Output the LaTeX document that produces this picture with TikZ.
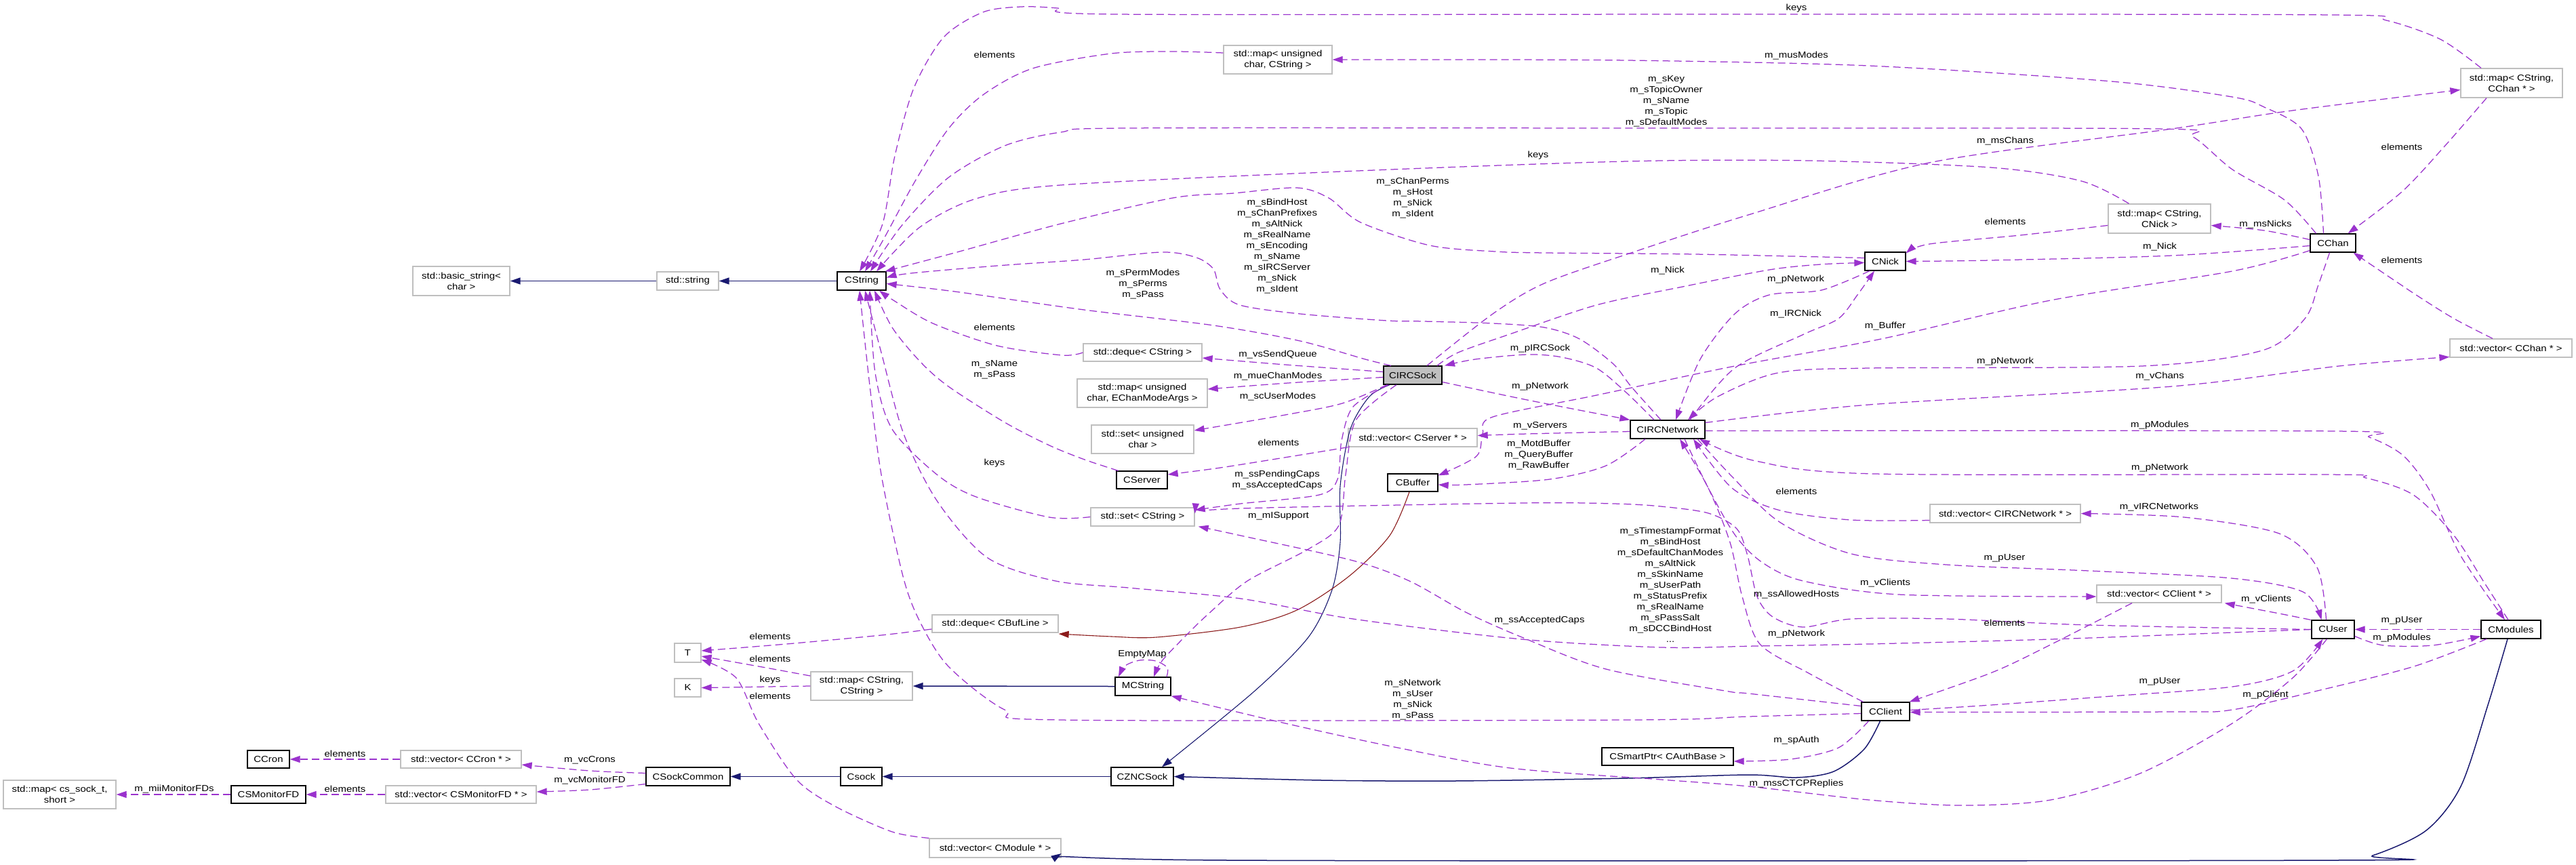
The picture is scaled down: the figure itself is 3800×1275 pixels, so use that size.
\documentclass[tikz,border=0pt]{standalone}
\usepackage{fontspec}
\setmainfont{Liberation Sans}[FakeStretch=1.15]
\usetikzlibrary{arrows.meta}
\definecolor{purp}{HTML}{9A32CD}
\definecolor{navy}{HTML}{191970}
\definecolor{fbrick}{HTML}{8B1A1A}
\definecolor{graybd}{HTML}{BFBFBF}
\newcommand{\lbl}{\fontsize{13}{16}\selectfont}
\begin{document}
\begin{tikzpicture}[x=1pt,y=-1pt,
 cls/.style={draw=black, line width=1.3pt, fill=white, inner sep=2pt, align=center, font=\lbl},
 tpl/.style={draw=graybd, line width=1.3pt, fill=white, inner sep=2pt, align=center, font=\lbl},
 lab/.style={inner sep=0pt, align=center, font=\lbl},
 usedge/.style={draw=purp, line width=1.25pt, dash pattern=on 11pt off 6pt, -{Triangle[length=15pt,width=10pt]}},
 inhedge/.style={draw=navy, line width=1.5pt, -{Triangle[length=15pt,width=10pt]}},
 protedge/.style={draw=fbrick, line width=1.5pt, -{Triangle[length=15pt,width=10pt]}}]
\useasboundingbox (0,0) rectangle (3800,1275);
\fill[white] (0,0) rectangle (3800,1275);

% ---------- nodes ----------
\node[tpl, minimum width=143pt, minimum height=43pt] (bstr) at (680.5,414.5) {std::basic\_string<\\char >};
\node[tpl, minimum width=91pt, minimum height=27pt] (sstr) at (1014.5,414.5) {std::string};
\node[cls, minimum width=72pt, minimum height=27pt] (cstr) at (1271,414.5) {CString};
\node[tpl, minimum width=160pt, minimum height=42pt] (mapuc) at (1885,88) {std::map< unsigned\\char, CString >};
\node[tpl, minimum width=175pt, minimum height=26pt] (dqcs) at (1685.5,520) {std::deque< CString >};
\node[tpl, minimum width=192pt, minimum height=42pt] (mapce) at (1685,580) {std::map< unsigned\\char, EChanModeArgs >};
\node[tpl, minimum width=151pt, minimum height=42pt] (setuc) at (1685.5,648) {std::set< unsigned\\char >};
\node[cls, minimum width=75pt, minimum height=26pt] (cserver) at (1684.5,708) {CServer};
\node[tpl, minimum width=153pt, minimum height=27pt] (setcs) at (1685.5,762.5) {std::set< CString >};
\node[cls, fill=graybd, minimum width=86pt, minimum height=27pt] (ircsock) at (2084,553.5) {CIRCSock};
\node[tpl, minimum width=190pt, minimum height=27pt] (vecserv) at (2084,645.5) {std::vector< CServer * >};
\node[cls, minimum width=74pt, minimum height=26pt] (cbuffer) at (2084,712) {CBuffer};
\node[cls, minimum width=110pt, minimum height=27pt] (ircnet) at (2460,633.5) {CIRCNetwork};
\node[cls, minimum width=60pt, minimum height=27pt] (cnick) at (2781,385.5) {CNick};
\node[tpl, minimum width=151pt, minimum height=43pt] (mapcn) at (3185.5,322.5) {std::map< CString,\\CNick >};
\node[cls, minimum width=67pt, minimum height=27pt] (cchan) at (3441.5,358.5) {CChan};
\node[tpl, minimum width=150pt, minimum height=43pt] (mapcc) at (3705,122.5) {std::map< CString,\\CChan * >};
\node[tpl, minimum width=180pt, minimum height=27pt] (vecchan) at (3704,513.5) {std::vector< CChan * >};
\node[tpl, minimum width=222pt, minimum height=27pt] (vecnet) at (2958,757.5) {std::vector< CIRCNetwork * >};
\node[tpl, minimum width=184pt, minimum height=26pt] (vecclient) at (3185,876) {std::vector< CClient * >};
\node[cls, minimum width=63pt, minimum height=27pt] (cuser) at (3441.5,928.5) {CUser};
\node[cls, minimum width=88pt, minimum height=27pt] (cmodules) at (3704,928.5) {CModules};
\node[cls, minimum width=71pt, minimum height=27pt] (cclient) at (2781.5,1049.5) {CClient};
\node[cls, minimum width=194pt, minimum height=26pt] (smartptr) at (2460,1116) {CSmartPtr< CAuthBase >};
\node[tpl, minimum width=186pt, minimum height=26pt] (dqbuf) at (1468,920) {std::deque< CBufLine >};
\node[tpl, minimum width=150pt, minimum height=42pt] (mapss) at (1271,1012) {std::map< CString,\\CString >};
\node[cls, minimum width=82pt, minimum height=27pt] (mcstring) at (1686,1012.5) {MCString};
\node[cls, minimum width=61pt, minimum height=27pt] (csock) at (1270.5,1145.5) {Csock};
\node[cls, minimum width=92pt, minimum height=27pt] (zncsock) at (1685,1145.5) {CZNCSock};
\node[tpl, minimum width=194pt, minimum height=28pt] (vecmod) at (1468,1251) {std::vector< CModule * >};
\node[tpl, minimum width=39pt, minimum height=28pt] (tnode) at (1014.5,963) {T};
\node[tpl, minimum width=39pt, minimum height=27pt] (knode) at (1014.5,1014.5) {K};
\node[cls, minimum width=62pt, minimum height=26pt] (ccron) at (396,1120) {CCron};
\node[tpl, minimum width=178pt, minimum height=26pt] (veccron) at (680,1120) {std::vector< CCron * >};
\node[cls, minimum width=124pt, minimum height=27pt] (sockcommon) at (1015,1145.5) {CSockCommon};
\node[tpl, minimum width=166pt, minimum height=42pt] (mapfd) at (88,1172) {std::map< cs\_sock\_t,\\short >};
\node[cls, minimum width=110pt, minimum height=26pt] (monfd) at (396,1172) {CSMonitorFD};
\node[tpl, minimum width=222pt, minimum height=26pt] (vecmonfd) at (680,1172) {std::vector< CSMonitorFD * >};

% ---------- inheritance ----------
\draw[inhedge] (sstr.west) -- (bstr.east);
\draw[inhedge] (cstr.west) -- (sstr.east);
\draw[inhedge] (csock.west) -- (sockcommon.east);
\draw[inhedge] (zncsock.west) -- (csock.east);
\draw[inhedge] (mcstring.west) -- (mapss.east);
\draw[inhedge, line width=1.1pt] plot[smooth] coordinates {([xshift=-34pt]ircsock.south) (2020,585) (1992,633) (1977,717) (1977,800) (1965,870) (1930,940) (1850,1020) ([xshift=29pt]zncsock.north)};
\draw[inhedge] plot[smooth] coordinates {([xshift=-8pt]cclient.south) (2750,1105) (2705,1138) (2650,1147) (2579,1143) (2400,1148) (2145,1152) (1950,1151) (zncsock.east)};
\draw[inhedge] plot[smooth] coordinates {([xshift=-5pt]cmodules.south) (3670,1040) (3630,1160) (3579,1225) (3500,1262) (3445,1269) (1813,1269) ([yshift=-8pt]vecmod.east)};
\draw[protedge, line width=1.1pt] plot[smooth] coordinates {([xshift=-5pt]cbuffer.south) (2050,790) (1990,850) (1913,900) (1830,925) (1706,940) (1640,939) ([yshift=-15pt]dqbuf.east)};

% ---------- usage edges ----------
\draw[usedge] plot[smooth] coordinates {([xshift=-45pt]mapcc.north) (3600,58) (3520,30) (3440,22) (2600,21) (1647,21) (1560,12) (1506,10) (1450,18) (1392,55) (1348,130) (1320,230) (1302,330) ([xshift=-3pt]cstr.north)};
\draw[usedge] plot[smooth] coordinates {([yshift=10pt]mapuc.west) (1730,76) (1639,79) (1523,101) (1450,140) (1399,190) (1350,267) (1305,350) ([xshift=5pt]cstr.north)};
\draw[usedge] plot[smooth] coordinates {([xshift=-14pt]cchan.north) (3420,260) (3395,190) (3340,158) (3293,143) (3114,120) (2757,97) (2400,89) (2100,88) (mapuc.east)};
\draw[usedge] plot[smooth] coordinates {([xshift=-25pt]cchan.north) (3370,295) (3293,250) (3235,202) (3180,190) (2400,189) (1664,189) (1565,195) (1482,215) (1399,262) (1330,333) ([xshift=13pt]cstr.north)};
\draw[usedge] plot[smooth] coordinates {([xshift=-45pt]mapcn.north) (3070,267) (2936,247) (2668,237) (2400,238) (1979,253) (1565,273) (1440,293) (1357,335) ([xshift=22pt]cstr.north)};
\draw[usedge] plot[smooth] coordinates {([yshift=5pt]cnick.west) (2500,375) (2280,373) (2205,371) (2109,362) (2007,328) (1960,292) (1913,277) (1820,285) (1730,292) (1565,330) (1408,373) ([xshift=-2pt]cstr.north east)};
\draw[usedge] plot[smooth] coordinates {([xshift=-10pt]ircnet.north) (2406,570) (2380,537) (2330,500) (2278,483) (2202,477) (2100,474) (2046,473) (1918,463) (1829,450) (1800,427) (1790,397) (1765,380) (1714,372) (1599,383) (1471,392) (1344,403) ([yshift=5pt]cstr.east)};
\draw[usedge] plot[smooth] coordinates {([xshift=-32pt]ircsock.north) (2014,530) (1918,503) (1790,480) (1599,457) (1408,430) ([yshift=-4pt]cstr.east)};
\draw[usedge] plot[smooth] coordinates {(dqcs.west) (1567,524) (1471,510) (1376,477) (1318,443) ([xshift=26pt]cstr.south)};
\draw[usedge] plot[smooth] coordinates {([xshift=-35pt]cserver.north) (1600,678) (1548,657) (1482,623) (1399,570) (1357,533) (1316,483) ([xshift=19pt]cstr.south)};
\draw[usedge] plot[smooth] coordinates {(setcs.west) (1548,763) (1440,733) (1382,700) (1316,633) (1291,550) ([xshift=12pt]cstr.south)};
\draw[usedge] plot[smooth] coordinates {(cuser.west) (3293,933) (3025,943) (2757,950) (2590,953) (2452,955) (2245,943) (1996,913) (1830,883) (1664,867) (1557,857) (1457,823) (1383,740) (1333,640) (1300,520) ([xshift=5pt]cstr.south)};
\draw[usedge] plot[smooth] coordinates {([yshift=-3pt]cclient.west) (2579,1057) (2400,1062) (1564,1062) (1482,1047) (1399,983) (1357,917) (1332,850) (1300,700) (1282,560) ([xshift=-3pt]cstr.south)};
\draw[usedge] plot[smooth] coordinates {([yshift=5pt]ircsock.west) (1896,538) ([yshift=-8pt]dqcs.east)};
\draw[usedge] plot[smooth] coordinates {([yshift=-3pt]ircsock.west) (1900,565) ([yshift=6pt]mapce.east)};
\draw[usedge] plot[smooth] coordinates {([xshift=-38pt]ircsock.south) (1980,595) (1896,612) ([yshift=13pt]setuc.east)};
\draw[usedge] plot[smooth] coordinates {([xshift=-36pt]ircsock.south) (1996,600) (1979,650) (1973,707) (1946,730) (1830,743) ([yshift=10pt]setcs.east)};
\draw[usedge] plot[smooth] coordinates {([xshift=-24pt]ircsock.south) (2000,620) (1985,700) (1975,775) (1930,810) (1840,857) (1781,907) (1747,940) (1714,975) ([xshift=16pt]mcstring.north)};
\draw[usedge] plot[smooth] coordinates {([xshift=36pt]ircsock.north) (2151,520) (2227,493) (2355,450) (2482,423) (2610,398) (2686,390) ([yshift=-2pt]cnick.west)};
\draw[usedge] plot[smooth] coordinates {([xshift=21pt]ircsock.north) (2202,463) (2278,418) (2406,373) (2579,317) (2846,240) (3204,190) (3382,163) ([yshift=-10pt]mapcc.west)};
\draw[usedge] plot[smooth] coordinates {([xshift=-20pt]ircnet.north) (2400,580) (2355,543) (2304,527) (2253,523) (2176,530) ([xshift=47pt]ircsock.north)};
\draw[usedge] plot[smooth] coordinates {([yshift=-10pt]ircsock.east) (2253,590) (ircnet.north west)};
\draw[usedge] plot[smooth] coordinates {([yshift=-3pt]ircnet.west) (2253,640) ([yshift=3pt]vecserv.east)};
\draw[usedge] plot[smooth] coordinates {([xshift=-33pt]ircnet.south) (2369,687) (2286,707) (2162,715) ([yshift=-3pt]cbuffer.east)};
\draw[usedge] plot[smooth] coordinates {(vecserv.south west) (1913,672) (1800,690) ([yshift=8pt]cserver.east)};
\draw[usedge] plot[smooth] coordinates {([yshift=-11pt]cchan.west) (3293,400) (3025,443) (2775,500) (2559,540) (2355,583) (2202,615) (2187,640) (2178,673) ([yshift=-3pt]cbuffer.north east)};
\draw[usedge] plot[smooth] coordinates {([xshift=-23pt]cnick.south) (2687,428) (2610,435) (2559,463) (2508,530) ([xshift=12pt]ircnet.north)};
\draw[usedge] plot[smooth] coordinates {([xshift=33pt]ircnet.north) (2559,543) (2661,493) (2712,470) (2740,435) ([xshift=-16pt]cnick.south)};
\draw[usedge] plot[smooth] coordinates {([xshift=-5pt]cchan.south) (3420,420) (3400,470) (3337,517) (3159,540) (2757,543) (2623,550) (2534,585) ([xshift=30pt]ircnet.north)};
\draw[usedge] plot[smooth] coordinates {([yshift=10pt]ircnet.east) (2757,597) (3204,570) (3450,540) ([yshift=-13pt]vecchan.west)};
\draw[usedge] plot[smooth] coordinates {([yshift=-2pt]ircnet.east) (3445,636) (3495,645) (3545,672) (3585,725) (3630,820) ([xshift=-9pt]cmodules.north)};
\draw[usedge] plot[smooth] coordinates {([xshift=-4pt]cmodules.north) (3665,860) (3620,790) (3560,730) (3490,705) (3432,700) (2766,699) (2590,680) ([xshift=47pt]ircnet.south)};
\draw[usedge] plot[smooth] coordinates {([yshift=-10pt]vecnet.west) (2731,767) (2626,753) (2555,720) ([xshift=38pt]ircnet.south)};
\draw[usedge] plot[smooth] coordinates {([xshift=-10pt]cuser.north) (3418,837) (3362,787) (3222,763) (vecnet.east)};
\draw[usedge] plot[smooth] coordinates {([xshift=44pt]ircnet.south) (2555,703) (2625,770) (2731,817) (2871,833) (3081,842) (3292,853) (3397,873) ([xshift=-17pt]cuser.north)};
\draw[usedge] plot[smooth] coordinates {([xshift=25pt]ircnet.south) (2520,720) (2560,790) (2600,830) (2660,857) (2801,877) ([yshift=-4pt]vecclient.west)};
\draw[usedge] plot[smooth] coordinates {(cuser.west) (3081,922) (2871,913) (2731,913) (2660,925) (2615,910) (2592,880) (2578,820) (2562,780) (2520,757) (2450,747) (2380,743) (2245,742) (1830,750) ([yshift=5pt]setcs.east)};
\draw[usedge] plot[smooth] coordinates {([yshift=8pt]cclient.west) (2579,1023) (2550,1020) (2369,987) (2245,940) (2162,903) (2079,857) (1996,827) (1830,790) ([xshift=5pt]setcs.south east)};
\draw[usedge] plot[smooth] coordinates {([xshift=-33pt]cuser.north) (3362,905) ([xshift=4pt]vecclient.south east)};
\draw[usedge] plot[smooth] coordinates {([xshift=-40pt]vecclient.south) (3011,958) (2936,993) ([xshift=35pt]cclient.north)};
\draw[usedge] plot[smooth] coordinates {([xshift=-33pt]cclient.north) (2668,993) (2596,950) (2570,880) (2552,800) (2520,720) ([xshift=18pt]ircnet.south)};
\draw[usedge] plot[smooth] coordinates {([xshift=-25pt]cclient.south) (2712,1103) (2641,1120) ([yshift=-7pt]smartptr.east)};
\draw[usedge] plot[smooth] coordinates {([yshift=2pt]cclient.east) (2937,1040) (3114,1027) (3293,1013) (3382,990) ([xshift=-15pt]cuser.south)};
\draw[usedge] plot[smooth] coordinates {([xshift=-36pt]cmodules.south) (3561,983) (3427,1017) (3293,1047) (3204,1050) ([yshift=-1pt]cclient.east)};
\draw[usedge] plot[smooth] coordinates {([xshift=-9pt]cuser.south) (3382,1000) (3293,1067) (3159,1140) (3025,1180) (2892,1188) (2757,1180) (2579,1160) (2450,1150) (2228,1133) (2062,1103) (1896,1067) (mcstring.south east)};
\draw[usedge] (cmodules.west) -- (cuser.east);
\draw[usedge] plot[smooth] coordinates {([yshift=-10pt]cuser.east) (3516,952) (3588,952) ([yshift=-10pt]cmodules.west)};
\draw[usedge] plot[smooth] coordinates {([xshift=-37pt]mapcc.south) (3605,217) (3543,283) ([xshift=22pt]cchan.north)};
\draw[usedge] plot[smooth] coordinates {([xshift=-27pt]vecchan.north) (3620,470) (3561,433) ([xshift=30pt]cchan.south)};
\draw[usedge] plot[smooth] coordinates {([yshift=5pt]cchan.west) (3340,340) ([yshift=-10pt]mapcn.east)};
\draw[usedge] plot[smooth] coordinates {([yshift=-4pt]cchan.west) (3204,377) (2936,384) (cnick.east)};
\draw[usedge] plot[smooth] coordinates {([yshift=-10pt]mapcn.west) (2980,347) (2846,360) ([yshift=12pt]cnick.east)};
\draw[usedge] plot[smooth] coordinates {([yshift=5pt]sockcommon.west) (870,1137) ([yshift=-8pt]veccron.east)};
\draw[usedge] plot[smooth] coordinates {([yshift=-11pt]sockcommon.west) (870,1165) ([yshift=4pt]vecmonfd.east)};
\draw[usedge] (veccron.west) -- (ccron.east);
\draw[usedge] (vecmonfd.west) -- (monfd.east);
\draw[usedge] (monfd.west) -- (mapfd.east);
\draw[usedge] plot[smooth] coordinates {([yshift=-8pt]dqbuf.west) (1300,937) (1160,950) ([yshift=3pt]tnode.east)};
\draw[usedge] plot[smooth] coordinates {([yshift=15pt]mapss.west) (1119,983) ([yshift=-5pt]tnode.east)};
\draw[usedge] (mapss.west) -- (knode.east);
\draw[usedge] plot[smooth] coordinates {(vecmod.north west) (1316,1227) (1233,1190) (1175,1150) (1119,1067) (1086,1000) ([yshift=-10pt]tnode.east)};
\draw[usedge] plot[smooth] coordinates {([xshift=35pt]mcstring.north) (1722,985) (1705,975) (1681,974) (1660,982) ([xshift=-36pt]mcstring.north)};

% ---------- labels ----------
\node[lab] (lb01) at (2650,12) {keys};
\node[lab] (lb02) at (1467,81) {elements};
\node[lab] (lb03) at (2650,82) {m\_musModes};
\node[lab] (lb04) at (2458,149) {m\_sKey\\m\_sTopicOwner\\m\_sName\\m\_sTopic\\m\_sDefaultModes};
\node[lab] (lb05) at (2958,208) {m\_msChans};
\node[lab] (lb06) at (3543,217) {elements};
\node[lab] (lb07) at (2269,229) {keys};
\node[lab] (lb08) at (2084,292) {m\_sChanPerms\\m\_sHost\\m\_sNick\\m\_sIdent};
\node[lab] (lb09) at (2958,327) {elements};
\node[lab] (lb10) at (3342,331) {m\_msNicks};
\node[lab] (lb11) at (1884,363) {m\_sBindHost\\m\_sChanPrefixes\\m\_sAltNick\\m\_sRealName\\m\_sEncoding\\m\_sName\\m\_sIRCServer\\m\_sNick\\m\_sIdent};
\node[lab] (lb12) at (3186,364) {m\_Nick};
\node[lab] (lb13) at (3543,384) {elements};
\node[lab] (lb14) at (2460,399) {m\_Nick};
\node[lab] (lb15) at (2649,412) {m\_pNetwork};
\node[lab] (lb16) at (1686,419) {m\_sPermModes\\m\_sPerms\\m\_sPass};
\node[lab] (lb17) at (2649,463) {m\_IRCNick};
\node[lab] (lb18) at (2781,481) {m\_Buffer};
\node[lab] (lb19) at (1467,483) {elements};
\node[lab] (lb20) at (2272,514) {m\_pIRCSock};
\node[lab] (lb21) at (1885,523) {m\_vsSendQueue};
\node[lab] (lb22) at (2958,533) {m\_pNetwork};
\node[lab] (lb23) at (1467,545) {m\_sName\\m\_sPass};
\node[lab] (lb24) at (1885,555) {m\_mueChanModes};
\node[lab] (lb25) at (3186,555) {m\_vChans};
\node[lab] (lb26) at (2272,570) {m\_pNetwork};
\node[lab] (lb27) at (1885,585) {m\_scUserModes};
\node[lab] (lb28) at (3186,627) {m\_pModules};
\node[lab] (lb29) at (2272,628) {m\_vServers};
\node[lab] (lb30) at (1886,653) {elements};
\node[lab] (lb31) at (2270,671) {m\_MotdBuffer\\m\_QueryBuffer\\m\_RawBuffer};
\node[lab] (lb32) at (1467,683) {keys};
\node[lab] (lb33) at (3186,690) {m\_pNetwork};
\node[lab] (lb34) at (1884,708) {m\_ssPendingCaps\\m\_ssAcceptedCaps};
\node[lab] (lb35) at (2650,725) {elements};
\node[lab] (lb36) at (3185,748) {m\_vIRCNetworks};
\node[lab] (lb37) at (1886,761) {m\_mISupport};
\node[lab] (lb38) at (2957,823) {m\_pUser};
\node[lab] (lb39) at (2781,860) {m\_vClients};
\node[lab] (lb40) at (2464,863) {m\_sTimestampFormat\\m\_sBindHost\\m\_sDefaultChanModes\\m\_sAltNick\\m\_sSkinName\\m\_sUserPath\\m\_sStatusPrefix\\m\_sRealName\\m\_sPassSalt\\m\_sDCCBindHost\\...};
\node[lab] (lb41) at (2650,877) {m\_ssAllowedHosts};
\node[lab] (lb42) at (3343,884) {m\_vClients};
\node[lab] (lb43) at (2271,915) {m\_ssAcceptedCaps};
\node[lab] (lb44) at (3543,915) {m\_pUser};
\node[lab] (lb45) at (2957,919) {elements};
\node[lab] (lb46) at (2650,935) {m\_pNetwork};
\node[lab] (lb47) at (1136,939) {elements};
\node[lab] (lb48) at (3543,941) {m\_pModules};
\node[lab] (lb49) at (1685,965) {EmptyMap};
\node[lab] (lb50) at (1136,972) {elements};
\node[lab] (lb51) at (1136,1003) {keys};
\node[lab] (lb52) at (3186,1005) {m\_pUser};
\node[lab] (lb53) at (3342,1025) {m\_pClient};
\node[lab] (lb54) at (1136,1027) {elements};
\node[lab] (lb55) at (2084,1032) {m\_sNetwork\\m\_sUser\\m\_sNick\\m\_sPass};
\node[lab] (lb56) at (2650,1092) {m\_spAuth};
\node[lab] (lb57) at (509,1112) {elements};
\node[lab] (lb58) at (870,1121) {m\_vcCrons};
\node[lab] (lb59) at (870,1151) {m\_vcMonitorFD};
\node[lab] (lb60) at (2650,1156) {m\_mssCTCPReplies};
\node[lab] (lb61) at (509,1164) {elements};
\node[lab] (lb62) at (257,1164) {m\_miiMonitorFDs};
\end{tikzpicture}
\end{document}
